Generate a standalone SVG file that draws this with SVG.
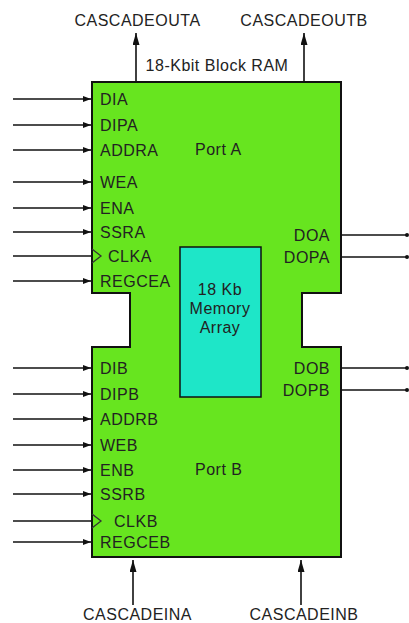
<svg xmlns="http://www.w3.org/2000/svg" width="409" height="623" viewBox="0 0 409 623">
<defs>
<style>
text{font-family:"Liberation Sans",Arial,sans-serif;font-size:16px;fill:#222;letter-spacing:0.5px}
.m{text-anchor:middle}
.e{text-anchor:end}
.w{stroke:#111;stroke-width:1.6;fill:none}
.clk{stroke:#333;stroke-width:1.3;fill:none}
</style>
<marker id="ah" viewBox="0 0 8 6" markerWidth="8" markerHeight="6" refX="8" refY="3" orient="auto" markerUnits="userSpaceOnUse">
<path d="M0,0 L8,3 L0,6 z" fill="#111"/>
</marker>
<marker id="ahv" viewBox="0 0 12 7" markerWidth="12" markerHeight="7" refX="12" refY="3.5" orient="auto" markerUnits="userSpaceOnUse">
<path d="M0,0 L12,3.5 L0,7 z" fill="#111"/>
</marker>
</defs>
<rect width="409" height="623" fill="#fff"/>
<g id="block">
<path d="M92,82 H341 V293 H302 V347 H341 V557 H92 V347 H130 V293 H92 Z" fill="#67e51f" stroke="#111" stroke-width="2"/>
<text class="m" x="217" y="71">18-Kbit Block RAM</text>
<text x="195" y="155">Port A</text>
<text x="195" y="475">Port B</text>
<text x="100" y="105">DIA</text>
<text x="100" y="131">DIPA</text>
<text x="100" y="156">ADDRA</text>
<text x="100" y="188">WEA</text>
<text x="100" y="214">ENA</text>
<text x="100" y="238">SSRA</text>
<text x="108" y="262">CLKA</text>
<text x="100" y="287">REGCEA</text>
<text x="100" y="374">DIB</text>
<text x="100" y="400">DIPB</text>
<text x="100" y="425">ADDRB</text>
<text x="100" y="451">WEB</text>
<text x="100" y="476">ENB</text>
<text x="100" y="500">SSRB</text>
<text x="114" y="527">CLKB</text>
<text x="100" y="548">REGCEB</text>
<text class="e" x="330" y="241">DOA</text>
<text class="e" x="330" y="263">DOPA</text>
<text class="e" x="330" y="374">DOB</text>
<text class="e" x="330" y="396">DOPB</text>
<path class="clk" d="M92,249 L101,256 L92,263"/>
<path class="clk" d="M92,514 L101,521 L92,528"/>
</g>
<g id="memory">
<rect x="180" y="247" width="81" height="150" fill="#1ee6c8" stroke="#111" stroke-width="1.5"/>
<text class="m" x="220" y="295">18 Kb</text>
<text class="m" x="220" y="314">Memory</text>
<text class="m" x="220" y="333">Array</text>
</g>
<g id="cascadeouta">
<text class="m" x="137.5" y="26">CASCADEOUTA</text>
</g>
<g id="cascadeoutb">
<text class="m" x="304" y="26">CASCADEOUTB</text>
</g>
<g id="cascadeina">
<text class="m" x="137.5" y="620">CASCADEINA</text>
</g>
<g id="cascadeinb">
<text class="m" x="304" y="620">CASCADEINB</text>
</g>
<g id="connectors">
<line class="w" x1="13" y1="99" x2="91" y2="99" marker-end="url(#ah)"/>
<line class="w" x1="13" y1="125" x2="91" y2="125" marker-end="url(#ah)"/>
<line class="w" x1="13" y1="150" x2="91" y2="150" marker-end="url(#ah)"/>
<line class="w" x1="13" y1="182" x2="91" y2="182" marker-end="url(#ah)"/>
<line class="w" x1="13" y1="208" x2="91" y2="208" marker-end="url(#ah)"/>
<line class="w" x1="13" y1="232" x2="91" y2="232" marker-end="url(#ah)"/>
<line class="w" x1="13" y1="256" x2="92" y2="256"/>
<line class="w" x1="13" y1="281" x2="91" y2="281" marker-end="url(#ah)"/>
<line class="w" x1="13" y1="368" x2="91" y2="368" marker-end="url(#ah)"/>
<line class="w" x1="13" y1="394" x2="91" y2="394" marker-end="url(#ah)"/>
<line class="w" x1="13" y1="419" x2="91" y2="419" marker-end="url(#ah)"/>
<line class="w" x1="13" y1="445" x2="91" y2="445" marker-end="url(#ah)"/>
<line class="w" x1="13" y1="470" x2="91" y2="470" marker-end="url(#ah)"/>
<line class="w" x1="13" y1="494" x2="91" y2="494" marker-end="url(#ah)"/>
<line class="w" x1="13" y1="521" x2="92" y2="521"/>
<line class="w" x1="13" y1="542" x2="91" y2="542" marker-end="url(#ah)"/>
<line class="w" x1="341" y1="235" x2="407" y2="235"/>
<line class="w" x1="341" y1="257" x2="407" y2="257"/>
<line class="w" x1="341" y1="368" x2="407" y2="368"/>
<line class="w" x1="341" y1="390" x2="407" y2="390"/>
<circle cx="407" cy="235" r="2" fill="#111"/>
<circle cx="407" cy="257" r="2" fill="#111"/>
<circle cx="407" cy="368" r="2" fill="#111"/>
<circle cx="407" cy="390" r="2" fill="#111"/>
<line class="w" x1="136" y1="82" x2="136" y2="33" marker-end="url(#ahv)"/>
<line class="w" x1="304" y1="82" x2="304" y2="33" marker-end="url(#ahv)"/>
<line class="w" x1="133" y1="605" x2="133" y2="560" marker-end="url(#ahv)"/>
<line class="w" x1="301" y1="605" x2="301" y2="560" marker-end="url(#ahv)"/>
</g>
</svg>
